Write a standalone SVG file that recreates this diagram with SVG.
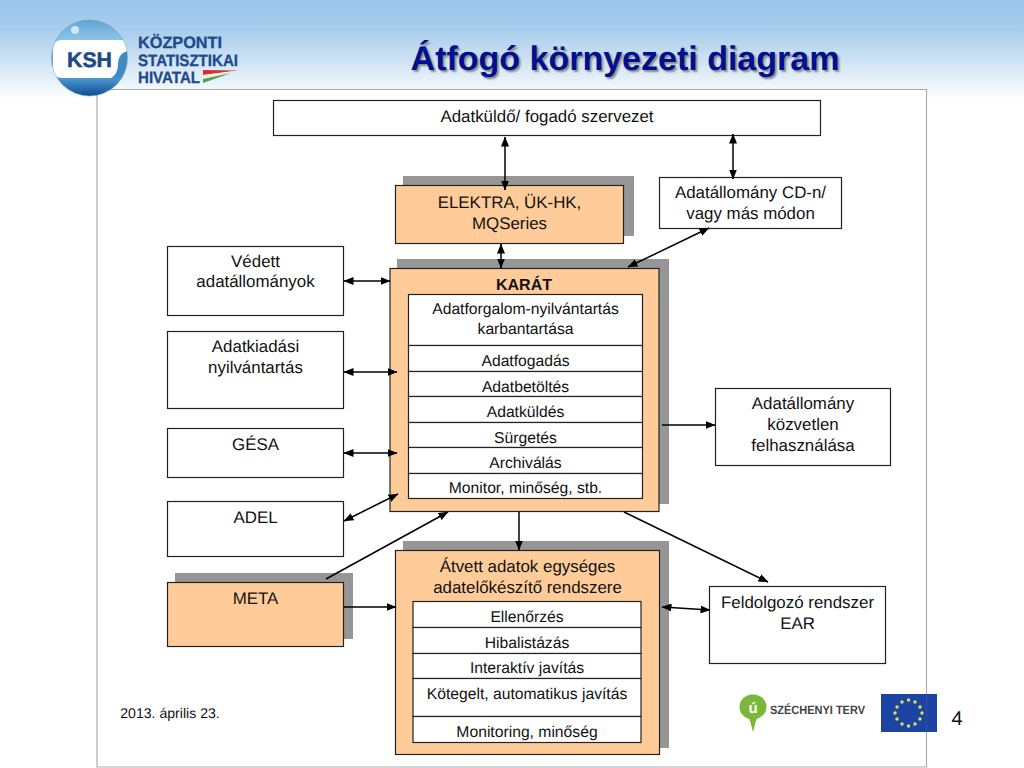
<svg xmlns="http://www.w3.org/2000/svg" width="1024" height="768" viewBox="0 0 1024 768">
<style>
text{font-family:"Liberation Sans",Arial,sans-serif;fill:#111;text-anchor:middle;font-size:16.9px;text-rendering:geometricPrecision}
.sub{font-size:15.7px}
.box{fill:#fff;stroke:#222;stroke-width:1.2}
.org{fill:#ffcc99;stroke:#222;stroke-width:1.2}
.sh{fill:#969696}
.c{stroke:#000;stroke-width:1.5;fill:none}
.both{marker-start:url(#a);marker-end:url(#a)}
.one{marker-end:url(#a)}
.logo{fill:#1c4a8c;stroke:#1c4a8c;stroke-width:.3;font-weight:bold;font-size:16.5px;text-anchor:start}
</style>
<defs>
<marker id="a" viewBox="0 0 10 8" refX="9.5" refY="4" markerWidth="10" markerHeight="8" markerUnits="userSpaceOnUse" orient="auto-start-reverse"><path d="M0 0L10 4L0 8z" fill="#000"/></marker>
<linearGradient id="bg" x1="0" y1="0" x2="0" y2="1"><stop offset="0" stop-color="#9cc5e9"/><stop offset=".3" stop-color="#a8cdec"/><stop offset="1" stop-color="#fff"/></linearGradient>
<linearGradient id="ball" x1="0" y1="0" x2="0" y2="1"><stop offset="0" stop-color="#5ea6d6"/><stop offset=".24" stop-color="#8cc2e4"/><stop offset=".76" stop-color="#4e9ad0"/><stop offset="1" stop-color="#0f4c96"/></linearGradient>
<clipPath id="bc"><circle cx="89.500" cy="58" r="38"/></clipPath>
</defs>
<rect width="1024" height="768" fill="#fff"/>
<rect width="1024" height="100" fill="url(#bg)"/>
<path d="M97 767V89.500H926.500V767Z" fill="#fff" stroke="#ababab" stroke-width="1.2"/>

<g id="logo">
<circle cx="89.500" cy="58" r="38" fill="url(#ball)" stroke="#6f97b5" stroke-width=".6"/>
<circle cx="75" cy="30" r="4" fill="#cfe6f5"/>
<g clip-path="url(#bc)">
<path d="M62 40H130V78H62Q53 78 53 69V49Q53 40 62 40Z" fill="#fff"/>
<path d="M128 51Q118 53 118 64Q118 74 111 78H128Z" fill="#3f8cc4"/>
</g>
<text x="89.500" y="67" textLength="45" lengthAdjust="spacingAndGlyphs" style="font-size:21px;font-weight:bold;fill:#1c4a86;stroke:#1c4a86;stroke-width:.5">KSH</text>
<text class="logo" x="138" y="48" textLength="84" lengthAdjust="spacingAndGlyphs">KÖZPONTI</text>
<text class="logo" x="138" y="65.500" textLength="100" lengthAdjust="spacingAndGlyphs">STATISZTIKAI</text>
<text class="logo" x="138" y="83" textLength="62" lengthAdjust="spacingAndGlyphs">HIVATAL</text>
<path d="M203 70L238 70.500L203 75z" fill="#d9302c"/><path d="M203 75L238 70.500L203 79z" fill="#eeeeee"/><path d="M203 79L231 73L203 83z" fill="#4ba544"/>
</g>

<text id="title" x="625" y="70" style="font-size:34px;font-weight:bold;fill:#00108f;text-shadow:2px 2px 2px #8a8a8a">Átfogó környezeti diagram</text>

<g id="adatkuldo"><rect class="box" x="273.500" y="100.500" width="547" height="35"/><text x="547" y="121.800">Adatküldő/ fogadó szervezet</text></g>
<g id="elektra"><rect class="sh" x="403" y="176" width="231" height="60"/><rect class="org" x="395.500" y="185.500" width="228" height="58"/><text x="509.500" y="207.500">ELEKTRA, ÜK-HK,</text><text x="509.500" y="228.500">MQSeries</text></g>
<g id="cd"><rect class="box" x="659.500" y="177.500" width="182" height="51"/><text x="750.500" y="198">Adatállomány CD-n/</text><text x="750.500" y="219">vagy más módon</text></g>
<g id="vedett"><rect class="box" x="167.500" y="246.500" width="176" height="69"/><text x="255.500" y="266.500">Védett</text><text x="255.500" y="286.500">adatállományok</text></g>
<g id="adatkiadasi"><rect class="box" x="167.500" y="331.500" width="176" height="77"/><text x="255.500" y="352">Adatkiadási</text><text x="255.500" y="373">nyilvántartás</text></g>
<g id="gesa"><rect class="box" x="167.500" y="428.500" width="176" height="49"/><text x="255.500" y="450">GÉSA</text></g>
<g id="adel"><rect class="box" x="167.500" y="501.500" width="176" height="55"/><text x="255.500" y="523">ADEL</text></g>
<g id="meta"><rect class="sh" x="175" y="573" width="178" height="66"/><rect class="org" x="167.500" y="582.500" width="176" height="64"/><text x="255.500" y="604">META</text></g>

<g id="karat">
<rect class="sh" x="397" y="259" width="272" height="245"/>
<rect class="org" x="390" y="268.500" width="269" height="243"/>
<text x="524" y="290" style="font-weight:bold;font-size:16px">KARÁT</text>
<rect class="box" x="408.500" y="294.500" width="234" height="51"/>
<text class="sub" x="525.500" y="314">Adatforgalom-nyilvántartás</text><text class="sub" x="525.500" y="333.500">karbantartása</text>
<rect class="box" x="408.500" y="345.500" width="234" height="26"/><text class="sub" x="525.500" y="366">Adatfogadás</text>
<rect class="box" x="408.500" y="371.500" width="234" height="25"/><text class="sub" x="525.500" y="391.500">Adatbetöltés</text>
<rect class="box" x="408.500" y="396.500" width="234" height="26"/><text class="sub" x="525.500" y="417">Adatküldés</text>
<rect class="box" x="408.500" y="422.500" width="234" height="25"/><text class="sub" x="525.500" y="442.500">Sürgetés</text>
<rect class="box" x="408.500" y="447.500" width="234" height="26"/><text class="sub" x="525.500" y="468">Archiválás</text>
<rect class="box" x="408.500" y="473.500" width="234" height="25"/><text class="sub" x="525.500" y="493">Monitor, minőség, stb.</text>
</g>

<g id="kozvetlen"><rect class="box" x="715.500" y="388.500" width="175" height="77"/><text x="803" y="409">Adatállomány</text><text x="803" y="430">közvetlen</text><text x="803" y="451">felhasználása</text></g>

<g id="atvett">
<rect class="sh" x="403" y="541" width="266" height="207"/>
<rect class="org" x="395.500" y="550.500" width="264" height="204"/>
<text x="527.500" y="572">Átvett adatok egységes</text><text x="527.500" y="592.500">adatelőkészítő rendszere</text>
<rect class="box" x="413" y="601.500" width="228" height="26"/><text class="sub" x="527" y="621.500">Ellenőrzés</text>
<rect class="box" x="413" y="627.500" width="228" height="26"/><text class="sub" x="527" y="647.500">Hibalistázás</text>
<rect class="box" x="413" y="653.500" width="228" height="25"/><text class="sub" x="527" y="673">Interaktív javítás</text>
<rect class="box" x="413" y="678.500" width="228" height="38"/><text class="sub" x="527" y="699">Kötegelt, automatikus javítás</text>
<rect class="box" x="413" y="716.500" width="228" height="26"/><text class="sub" x="527" y="737">Monitoring, minőség</text>
</g>

<g id="ear"><rect class="box" x="709.500" y="586.500" width="176" height="77"/><text x="797.500" y="608">Feldolgozó rendszer</text><text x="797.500" y="629">EAR</text></g>

<g id="connectors">
<path class="c both" d="M505 137V190"/>
<path class="c both" d="M733 134V179"/>
<path class="c both" d="M501 244V268"/>
<path class="c both" d="M709 228L628 267"/>
<path class="c both" d="M344 281H390"/>
<path class="c both" d="M344 372H397"/>
<path class="c both" d="M344 453H397"/>
<path class="c both" d="M344 521L398 494"/>
<path class="c one" d="M326 579L448 512"/>
<path class="c one" d="M344 607H396"/>
<path class="c one" d="M662 425H715"/>
<path class="c one" d="M519 512V550"/>
<path class="c one" d="M624 512L768 582"/>
<path class="c both" d="M662 607L710 610"/>
</g>

<text x="170" y="718" style="font-size:14.1px">2013. április 23.</text>
<g id="szechenyi">
<path d="M753 732L749.500 719C740 716 738 708 740.500 702C745 692 761 692 765.500 702C768 708 766 716 756.500 719Z" fill="#7ab83c"/>
<text x="753" y="713" style="font-size:15px;font-weight:bold;fill:#fff">ú</text>
<text x="770" y="714" textLength="95" lengthAdjust="spacingAndGlyphs" style="font-size:12px;font-weight:bold;fill:#444;text-anchor:start">SZÉCHENYI TERV</text>
</g>
<g id="eu">
<rect x="881" y="694" width="56" height="38" fill="#1b44a3"/>
<g fill="#dfe34e"><circle cx="908.500" cy="700" r="1.700"/><circle cx="915" cy="702" r="1.700"/><circle cx="920" cy="707" r="1.700"/><circle cx="922" cy="713" r="1.700"/><circle cx="920" cy="719" r="1.700"/><circle cx="915" cy="724" r="1.700"/><circle cx="908.500" cy="726" r="1.700"/><circle cx="902" cy="724" r="1.700"/><circle cx="897" cy="719" r="1.700"/><circle cx="895" cy="713" r="1.700"/><circle cx="897" cy="707" r="1.700"/><circle cx="902" cy="702" r="1.700"/></g>
<path d="M926.500 694V732" stroke="#3a4f8f" stroke-width="1"/>
</g>
<text x="957" y="725" style="font-size:20px">4</text>
</svg>
